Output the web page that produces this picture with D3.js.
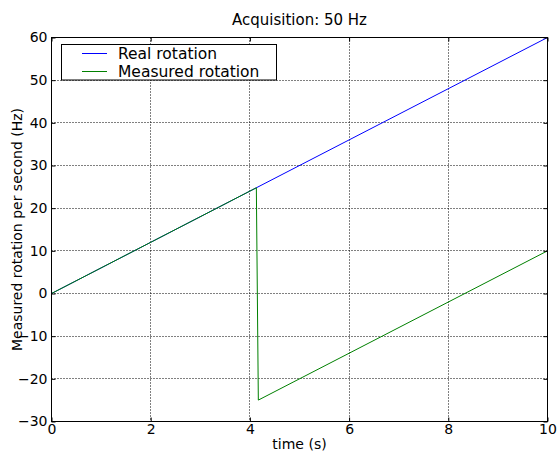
<!DOCTYPE html>
<html>
<head>
<meta charset="utf-8">
<script src="https://cdn.jsdelivr.net/npm/d3@7"></script>
<style>
  body { margin: 0; background: #fff; }
  svg { display: block; font-family: "DejaVu Sans", sans-serif; }
</style>
</head>
<body>
<div class="canvas"></div>
<script>
var width = 557,
    height = 453;

// data
var realTime = [0, 10];
var realValues = [0, 60];
var measuredTime = [0, 4.13, 4.17, 10];
var measuredValues = [0, 24.78, -24.98, 10];
var xTicks = [0, 2, 4, 6, 8, 10];
var yTicks = [-30, -20, -10, 0, 10, 20, 30, 40, 50, 60];
var seriesNames = ["Real rotation", "Measured rotation"];
var seriesColors = ["#0000ff", "#008000"];

var margin = {left: 51.5, right: 9.5, top: 37.5, bottom: 31.5};
var plotW = width - margin.left - margin.right,
    plotH = height - margin.top - margin.bottom;

var svg = d3.select(".canvas").append("svg")
          .attr("width", width)
          .attr("height", height);

var x = d3.scaleLinear().domain([0, 10]).range([0, plotW]);
var y = d3.scaleLinear().domain([-30, 60]).range([plotH, 0]);

var g = svg.append("g")
          .attr("transform", "translate(" + margin.left + "," + margin.top + ")");

// grid (snapped to pixels)
g.append("g").selectAll("line")
    .data(xTicks.slice(1, -1))
  .enter().append("line")
    .attr("x1", d => Math.round(x(d))).attr("x2", d => Math.round(x(d)))
    .attr("y1", 0).attr("y2", plotH)
    .attr("stroke", "#000").attr("stroke-width", 1)
    .attr("stroke-dasharray", "1,2");
g.append("g").selectAll("line")
    .data(yTicks.slice(1, -1))
  .enter().append("line")
    .attr("y1", d => Math.round(y(d))).attr("y2", d => Math.round(y(d)))
    .attr("x1", 0).attr("x2", plotW)
    .attr("stroke", "#000").attr("stroke-width", 1)
    .attr("stroke-dasharray", "1,2");

// lines
var line = d3.line().x(d => x(d[0])).y(d => y(d[1]));
var realData = realTime.map((t, i) => [t, realValues[i]]);
var measuredData = measuredTime.map((t, i) => [t, measuredValues[i]]);

g.append("path")
    .datum(realData)
    .attr("d", line)
    .attr("fill", "none")
    .attr("stroke", seriesColors[0]);
g.append("path")
    .datum(measuredData)
    .attr("d", line)
    .attr("fill", "none")
    .attr("stroke", seriesColors[1]);

// axes, ticks pointing inward on all four sides
var tickFmt = d3.format("d");
var xb = g.append("g").attr("transform", "translate(0," + plotH + ")")
    .call(d3.axisBottom(x).tickValues(xTicks).tickFormat(tickFmt).tickSizeInner(-4).tickSizeOuter(0).tickPadding(3));
var xt = g.append("g")
    .call(d3.axisTop(x).tickValues(xTicks).tickFormat("").tickSizeInner(-4).tickSizeOuter(0));
var yl = g.append("g")
    .call(d3.axisLeft(y).tickValues(yTicks).tickFormat(tickFmt).tickSizeInner(-4).tickSizeOuter(0).tickPadding(4));
var yr = g.append("g").attr("transform", "translate(" + plotW + ",0)")
    .call(d3.axisRight(y).tickValues(yTicks).tickFormat("").tickSizeInner(-4).tickSizeOuter(0));

[xb, xt, yl, yr].forEach(a => {
  a.select(".domain").remove();
  a.selectAll("line").attr("stroke", "#000");
  a.selectAll("text").attr("fill", "#000")
    .style("font-family", "DejaVu Sans").style("font-size", "14px");
});
xb.selectAll("text").attr("dy", "0.71em");

g.append("rect")
    .attr("width", plotW).attr("height", plotH)
    .attr("fill", "none").attr("stroke", "#000").attr("stroke-width", 1);

// legend (drawn straight on the svg)
var legX = 61.5, legY = 44.5;
svg.append("rect")
    .attr("x", legX).attr("y", legY).attr("width", 215).attr("height", 35.5)
    .attr("fill", "#fff").attr("stroke", "#000").attr("stroke-width", 1);
seriesNames.forEach((name, i) => {
  var cy = 53 + i * 18;
  svg.append("rect")
      .attr("x", 82).attr("y", cy).attr("width", 25).attr("height", 1)
      .attr("fill", seriesColors[i]);
  svg.append("text")
      .attr("x", 118).attr("y", cy + 0.5).attr("dy", "0.35em")
      .style("font-size", "15.5px")
      .text(name);
});

// labels
svg.append("text")
    .attr("x", margin.left + plotW / 2).attr("y", 25)
    .attr("text-anchor", "middle")
    .style("font-size", "15px")
    .text("Acquisition: 50 Hz");
svg.append("text")
    .attr("x", margin.left + plotW / 2).attr("y", 449)
    .attr("text-anchor", "middle")
    .style("font-size", "14px")
    .text("time (s)");
svg.append("text")
    .attr("transform", "translate(22," + (margin.top + plotH / 2) + ") rotate(-90)")
    .attr("text-anchor", "middle")
    .style("font-size", "14px")
    .text("Measured rotation per second (Hz)");
</script>
</body>
</html>
